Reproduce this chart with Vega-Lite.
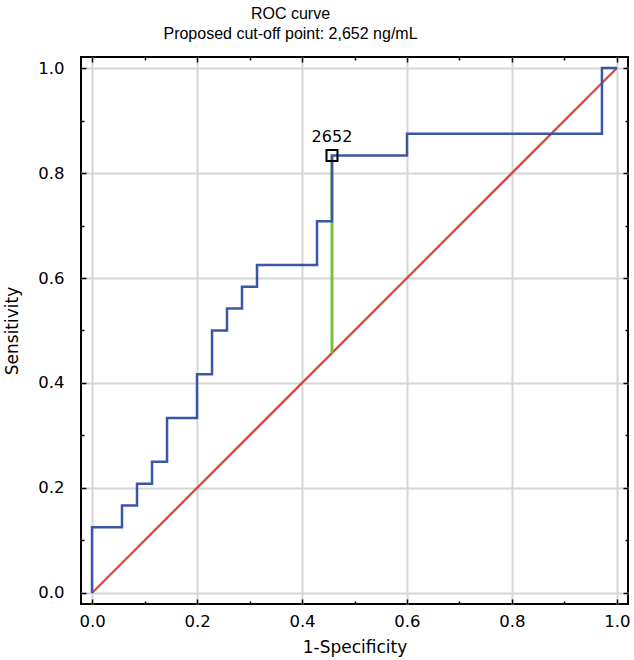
{
  "$schema": "https://vega.github.io/schema/vega-lite/v6.json",
  "autosize": "none",
  "width": 547,
  "height": 547,
  "padding": {"left": 81, "top": 57, "right": 6, "bottom": 56},
  "background": "white",
  "title": {
    "text": ["ROC curve", "Proposed cut-off point: 2,652 ng/mL"],
    "font": "Liberation Sans",
    "fontSize": 16,
    "fontWeight": "normal",
    "color": "#000",
    "lineHeight": 20,
    "anchor": "middle",
    "dx": -64,
    "offset": 14
  },
  "config": {
    "view": {"stroke": "#000", "strokeWidth": 2},
    "axis": {
      "labelFont": "DejaVu Sans",
      "titleFont": "DejaVu Sans",
      "labelFontSize": 16.5,
      "titleFontSize": 17,
      "titleFontWeight": "normal",
      "labelColor": "#000",
      "titleColor": "#000",
      "domain": false,
      "tickColor": "#000",
      "tickWidth": 1.5,
      "gridColor": "#d6d6d6",
      "gridWidth": 2
    }
  },
  "datasets": {
    "diag": [{"fpr": 0, "tpr": 0}, {"fpr": 1, "tpr": 1}],
    "roc": [
      {"i": 0, "fpr": 0, "tpr": 0},
      {"i": 1, "fpr": 0, "tpr": 0.125},
      {"i": 2, "fpr": 0.0571, "tpr": 0.125},
      {"i": 3, "fpr": 0.0571, "tpr": 0.1667},
      {"i": 4, "fpr": 0.0857, "tpr": 0.1667},
      {"i": 5, "fpr": 0.0857, "tpr": 0.2083},
      {"i": 6, "fpr": 0.1143, "tpr": 0.2083},
      {"i": 7, "fpr": 0.1143, "tpr": 0.25},
      {"i": 8, "fpr": 0.1429, "tpr": 0.25},
      {"i": 9, "fpr": 0.1429, "tpr": 0.3333},
      {"i": 10, "fpr": 0.2, "tpr": 0.3333},
      {"i": 11, "fpr": 0.2, "tpr": 0.4167},
      {"i": 12, "fpr": 0.2286, "tpr": 0.4167},
      {"i": 13, "fpr": 0.2286, "tpr": 0.5},
      {"i": 14, "fpr": 0.2571, "tpr": 0.5},
      {"i": 15, "fpr": 0.2571, "tpr": 0.5417},
      {"i": 16, "fpr": 0.2857, "tpr": 0.5417},
      {"i": 17, "fpr": 0.2857, "tpr": 0.5833},
      {"i": 18, "fpr": 0.3143, "tpr": 0.5833},
      {"i": 19, "fpr": 0.3143, "tpr": 0.625},
      {"i": 20, "fpr": 0.4286, "tpr": 0.625},
      {"i": 21, "fpr": 0.4286, "tpr": 0.7083},
      {"i": 22, "fpr": 0.4571, "tpr": 0.7083},
      {"i": 23, "fpr": 0.4571, "tpr": 0.8333},
      {"i": 24, "fpr": 0.6, "tpr": 0.8333},
      {"i": 25, "fpr": 0.6, "tpr": 0.875},
      {"i": 26, "fpr": 0.9714, "tpr": 0.875},
      {"i": 27, "fpr": 0.9714, "tpr": 1},
      {"i": 28, "fpr": 1, "tpr": 1}
    ],
    "cut": [{"fpr": 0.4571, "tpr": 0.8333, "chance": 0.4571, "label": "2652"}]
  },
  "resolve": {"axis": {"x": "independent", "y": "independent"}},
  "layer": [
    {
      "data": {"name": "diag"},
      "mark": {"type": "line", "color": "#e2463a", "strokeWidth": 2.3},
      "encoding": {
        "x": {"field": "fpr", "type": "quantitative", "scale": {"domain": [-0.021, 1.021], "nice": false, "zero": false},
          "axis": {"orient": "bottom", "values": [0, 0.2, 0.4, 0.6, 0.8, 1], "format": ".1f", "tickSize": -5, "labelPadding": 14, "title": "1-Specificity", "titlePadding": 10, "grid": true}},
        "y": {"field": "tpr", "type": "quantitative", "scale": {"domain": [-0.021, 1.021], "nice": false, "zero": false},
          "axis": {"orient": "left", "values": [0, 0.2, 0.4, 0.6, 0.8, 1], "format": ".1f", "tickSize": -5, "labelPadding": 22, "title": "Sensitivity", "titlePadding": 16, "grid": true}}
      }
    },
    {
      "data": {"name": "cut"},
      "mark": {"type": "rule", "color": "#7cc043", "strokeWidth": 3},
      "encoding": {
        "x": {"field": "fpr", "type": "quantitative", "axis": {"orient": "top", "values": [0, 0.2, 0.4, 0.6, 0.8, 1], "labels": false, "tickSize": -5, "title": null, "grid": false}},
        "y": {"field": "chance", "type": "quantitative", "axis": {"orient": "right", "values": [0, 0.2, 0.4, 0.6, 0.8, 1], "labels": false, "tickSize": -5, "title": null, "grid": false}},
        "y2": {"field": "tpr"}
      }
    },
    {
      "data": {"name": "roc"},
      "mark": {"type": "line", "color": "#3a56a5", "strokeWidth": 2.5},
      "encoding": {
        "x": {"field": "fpr", "type": "quantitative", "axis": {"orient": "bottom", "values": [0.1, 0.3, 0.5, 0.7, 0.9], "labels": false, "tickSize": -3, "title": null, "grid": false}},
        "y": {"field": "tpr", "type": "quantitative", "axis": {"orient": "left", "values": [0.1, 0.3, 0.5, 0.7, 0.9], "labels": false, "tickSize": -3, "title": null, "grid": false}},
        "order": {"field": "i"}
      }
    },
    {
      "data": {"name": "cut"},
      "mark": {"type": "point", "shape": "square", "filled": false, "color": "#000", "size": 121, "strokeWidth": 2, "opacity": 1},
      "encoding": {
        "x": {"field": "fpr", "type": "quantitative", "axis": {"orient": "top", "values": [0.1, 0.3, 0.5, 0.7, 0.9], "labels": false, "tickSize": -3, "title": null, "grid": false}},
        "y": {"field": "tpr", "type": "quantitative", "axis": {"orient": "right", "values": [0.1, 0.3, 0.5, 0.7, 0.9], "labels": false, "tickSize": -3, "title": null, "grid": false}}
      }
    },
    {
      "data": {"name": "cut"},
      "mark": {"type": "text", "font": "DejaVu Sans", "fontSize": 16, "color": "#000", "dy": -14, "baseline": "alphabetic"},
      "encoding": {
        "x": {"field": "fpr", "type": "quantitative", "axis": null},
        "y": {"field": "tpr", "type": "quantitative", "axis": null},
        "text": {"field": "label"}
      }
    }
  ]
}
